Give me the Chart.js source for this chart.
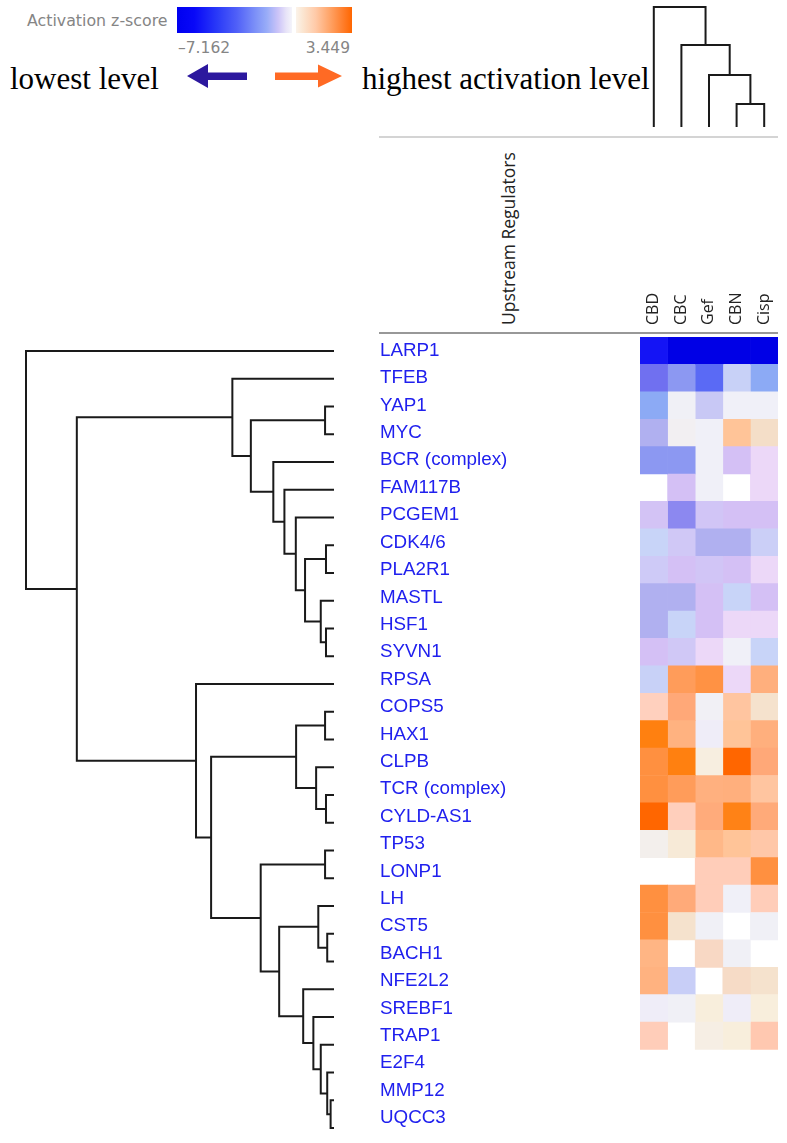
<!DOCTYPE html>
<html>
<head>
<meta charset="utf-8">
<script src="https://cdn.jsdelivr.net/npm/chart.js@4.4.1/dist/chart.umd.min.js"></script>
<style>
  body { margin: 0; background: #fff; }
  #page { position: relative; width: 787px; height: 1143px; overflow: hidden; background: #fff; }
  .abs { position: absolute; white-space: nowrap; }
  .legend-txt { font-family: "DejaVu Sans", sans-serif; color: #858585; line-height: 18px; }
  .serif { font-family: "Liberation Serif", "Times New Roman", serif; font-size: 31px; line-height: 31px; color: #000; }
  canvas { position: absolute; }
</style>
</head>
<body>
<div id="page">
  <div class="abs legend-txt" style="left:27px; top:12px; font-size:15.8px;">Activation z-score</div>
  <div class="abs" id="barNeg" style="left:177px; top:7px; width:115px; height:26px;"></div>
  <div class="abs" id="barPos" style="left:296px; top:7px; width:56px; height:26px;"></div>
  <div class="abs legend-txt" style="left:178px; top:39px; font-size:15.5px;">–7.162</div>
  <div class="abs legend-txt" style="left:250px; top:39px; width:100px; text-align:right; font-size:15.5px;">3.449</div>

  <svg class="abs" style="left:0; top:0;" width="787" height="140">
    <polygon points="187,76 208,64 208,72.5 247,72.5 247,80 208,80 208,88" fill="#2c189e"/>
    <polygon points="275,72.5 318,72.5 318,64.5 342,76 318,87.5 318,80 275,80" fill="#ff6a24"/>
  </svg>
  <div class="abs serif" style="left:10px; top:63px;">lowest level</div>
  <div class="abs serif" style="left:362px; top:63px;">highest activation level</div>

  <div class="abs" style="left:379px; top:136px; width:399px; height:1.5px; background:#d4d4d4;"></div>
  <div class="abs" style="left:496px; top:325px; width:200px; line-height:24px; font-family:'Open Sans', sans-serif; font-size:17.5px; color:#222; transform-origin:0 0; transform:rotate(-90deg);">Upstream Regulators</div>
  <div class="abs" style="left:379px; top:332px; width:399px; height:2px; background:#989898;"></div>

  <canvas id="colTree" width="138" height="130" style="left:640px; top:0px;"></canvas>
  <canvas id="rowTree" width="336" height="805" style="left:0px; top:337px;"></canvas>
  <canvas id="heat" width="400" height="866" style="left:380px; top:277px;"></canvas>
</div>

<script>
// rows (upstream regulators), top to bottom
const regulators = [
  "LARP1", "TFEB", "YAP1", "MYC", "BCR (complex)", "FAM117B", "PCGEM1", "CDK4/6",
  "PLA2R1", "MASTL", "HSF1", "SYVN1", "RPSA", "COPS5", "HAX1", "CLPB",
  "TCR (complex)", "CYLD-AS1", "TP53", "LONP1", "LH", "CST5", "BACH1", "NFE2L2",
  "SREBF1", "TRAP1", "E2F4", "MMP12", "UQCC3"
];
const conditions = ["CBD", "CBC", "Gef", "CBN", "Cisp"];

// activation z-scores per condition (null = no value)
const cbd  = [-6.6, -4.0, -2.6, -2.0, -3.2, null, -1.15, -1.5, -1.3, -2.0, -2.0, -1.1, -1.55, 0.7, 2.9, 2.5, 2.5, 3.449, 0.05, null, 2.5, 2.5, 1.55, 1.6, -0.3, 0.8, null, null, null];
const cbc  = [-7.162, -3.2, -0.2, -0.05, -3.2, -1.1, -3.5, -1.25, -1.1, -2.0, -1.5, -1.25, 2.2, 1.9, 1.6, 2.9, 2.2, 0.75, 0.3, null, 1.85, 0.4, null, -1.6, -0.2, null, null, null, null];
const gef  = [-7.162, -5.0, -1.7, -0.25, -0.25, -0.25, -1.2, -2.0, -1.2, -1.1, -1.1, -0.6, 2.45, -0.15, -0.3, 0.2, 1.65, 1.8, 1.5, 0.8, 0.8, -0.2, 0.55, null, 0.25, 0.15, null, null, null];
const cbn  = [-7.162, -1.55, -0.25, 1.3, -1.1, null, -1.1, -2.0, -1.1, -1.5, -0.6, -0.25, -0.6, 1.2, 1.3, 3.449, 1.7, 2.85, 1.3, 0.8, -0.25, null, -0.2, 0.5, -0.3, 0.25, null, null, null];
const cisp = [-7.162, -2.6, -0.25, 0.45, -0.6, -0.6, -1.1, -1.4, -0.6, -1.1, -0.6, -1.5, 1.7, 0.4, 1.7, 1.9, 1.2, 1.85, 1.1, 2.5, 0.8, -0.2, null, 0.4, 0.25, 1.0, null, null, null];

// hierarchical clustering: [childA, childB, height]; leaves are 0..n-1, merges numbered after
const rowLinkage = [
  [27, 28, 0.11], [26, 29, 0.22], [25, 30, 0.43], [24, 31, 0.67], [23, 32, 1.00],
  [21, 22, 0.22], [20, 34, 0.51], [35, 33, 1.78], [18, 19, 0.29], [37, 36, 2.38],
  [16, 17, 0.26], [15, 39, 0.58], [13, 14, 0.29], [41, 40, 1.23], [42, 38, 3.99],
  [12, 43, 4.48], [10, 11, 0.26], [9, 45, 0.43], [7, 8, 0.26], [47, 46, 0.94],
  [6, 48, 1.24], [5, 49, 1.61], [4, 50, 1.97], [2, 3, 0.29], [52, 51, 2.70],
  [1, 53, 3.30], [54, 44, 8.35], [0, 55, 10.0]
];
const colLinkage = [[3, 4, 1.92], [2, 5, 4.33], [1, 6, 6.83], [0, 7, 10.0]];

const zMin = -7.162;
const zMax = 3.449;

// colour scale for the cells
const zStops = [
  [-7.162, [0, 0, 230]], [-6.6, [20, 20, 245]], [-5.0, [90, 106, 245]], [-4.0, [112, 112, 240]],
  [-3.5, [140, 136, 240]], [-3.2, [140, 152, 242]], [-2.6, [140, 170, 245]], [-2.0, [176, 176, 240]],
  [-1.7, [200, 200, 245]], [-1.5, [200, 212, 248]], [-1.1, [212, 192, 245]], [-0.6, [236, 216, 248]],
  [-0.25, [240, 240, 248]], [0, [242, 239, 240]], [0.25, [248, 238, 220]], [0.45, [244, 222, 200]],
  [0.7, [255, 208, 190]], [1.0, [255, 200, 176]], [1.3, [255, 196, 152]], [1.6, [255, 178, 128]],
  [1.9, [255, 168, 120]], [2.2, [255, 156, 90]], [2.5, [255, 144, 64]], [2.9, [255, 128, 16]],
  [3.449, [255, 102, 0]]
];

function zColor(v) {
  v = Math.max(zMin, Math.min(zMax, v));
  for (let i = 1; i < zStops.length; i++) {
    const [v1, c1] = zStops[i];
    const [v0, c0] = zStops[i - 1];
    if (v <= v1) {
      const t = (v - v0) / (v1 - v0);
      const c = c0.map((a, k) => Math.round(a + (c1[k] - a) * t));
      return `rgb(${c[0]}, ${c[1]}, ${c[2]})`;
    }
  }
  return "rgb(255, 102, 0)";
}

// legend bar
document.getElementById("barNeg").style.background =
  "linear-gradient(to right, #0000f0 0%, #0808f8 15%, #2a3af8 35%, #5060f8 52%, #7c90f8 68%, #98acf8 78%, #ccc4f8 88%, #e8e4f8 95%, #f4f4fa 100%)";
document.getElementById("barPos").style.background =
  "linear-gradient(to right, #fbf3ea 0%, #fbe6d2 12%, #ffcaa8 35%, #ffa468 60%, #ff7c28 85%, #ff6600 100%)";

// turn a linkage into elbow polylines: [ [h, pos], ... ]
function dendroLines(linkage, nLeaves) {
  const pos = [];
  const hgt = [];
  for (let i = 0; i < nLeaves; i++) { pos.push(i); hgt.push(0); }
  return linkage.map(([a, b, h]) => {
    pos.push((pos[a] + pos[b]) / 2);
    hgt.push(h);
    return [[hgt[a], pos[a]], [h, pos[a]], [h, pos[b]], [hgt[b], pos[b]]];
  });
}

const baseOpts = {
  responsive: false,
  animation: false,
  events: [],
  plugins: { legend: { display: false }, tooltip: { enabled: false } }
};

const lineStyle = {
  showLine: true, borderColor: "#1a1a1a", borderWidth: 2, pointRadius: 0,
  tension: 0, clip: false, fill: false
};

// row dendrogram (left)
new Chart(document.getElementById("rowTree"), {
  type: "scatter",
  data: {
    datasets: dendroLines(rowLinkage, regulators.length).map(seg => ({
      ...lineStyle,
      data: seg.map(([h, p]) => ({ x: h, y: p }))
    }))
  },
  options: {
    ...baseOpts,
    layout: { padding: { left: 26, right: 2, top: 0, bottom: 0 } },
    scales: {
      x: { type: "linear", min: 0, max: 10, reverse: true, display: false },
      y: { type: "linear", min: -0.5, max: regulators.length - 0.5, reverse: true, display: false }
    }
  }
});

// column dendrogram (top)
new Chart(document.getElementById("colTree"), {
  type: "scatter",
  data: {
    datasets: dendroLines(colLinkage, conditions.length).map(seg => ({
      ...lineStyle,
      data: seg.map(([h, p]) => ({ x: p, y: h }))
    }))
  },
  options: {
    ...baseOpts,
    layout: { padding: { left: 0, right: 0, top: 7, bottom: 3 } },
    scales: {
      x: { type: "linear", min: -0.5, max: conditions.length - 0.5, display: false },
      y: { type: "linear", min: 0, max: 10, display: false }
    }
  }
});

// heatmap with row labels and column labels
const columns = [cbd, cbc, gef, cbn, cisp];
new Chart(document.getElementById("heat"), {
  type: "bar",
  data: {
    labels: regulators,
    datasets: columns.map((vals, c) => ({
      label: conditions[c],
      data: vals.map(v => (v === null ? null : [c - 0.5, c + 0.5])),
      backgroundColor: vals.map(v => (v === null ? "rgba(0,0,0,0)" : zColor(v))),
      borderWidth: 0,
      grouped: false,
      categoryPercentage: 1,
      barPercentage: 1,
      xAxisID: "x"
    }))
  },
  options: {
    ...baseOpts,
    indexAxis: "y",
    layout: { padding: { left: 0, right: 2, top: 0, bottom: 1 } },
    scales: {
      x: { type: "linear", min: -0.5, max: conditions.length - 0.5, display: false },
      x2: {
        type: "category",
        labels: conditions,
        position: "top",
        offset: true,
        grid: { display: false, drawTicks: false },
        border: { display: false },
        ticks: {
          minRotation: 90, maxRotation: 90, padding: 12, labelOffset: 19, color: "#222",
          font: { family: "'Open Sans', sans-serif", size: 16 }
        },
        afterFit: s => { s.height = 60; }
      },
      y: {
        type: "category",
        position: "left",
        grid: { display: false, drawTicks: false },
        border: { display: false },
        ticks: {
          autoSkip: false, crossAlign: "far", padding: 0, color: "#2020ee",
          font: { family: "'Liberation Sans', Arial, sans-serif", size: 18.8 }
        },
        afterFit: s => { s.width = 260; }
      }
    }
  }
});
</script>
</body>
</html>
